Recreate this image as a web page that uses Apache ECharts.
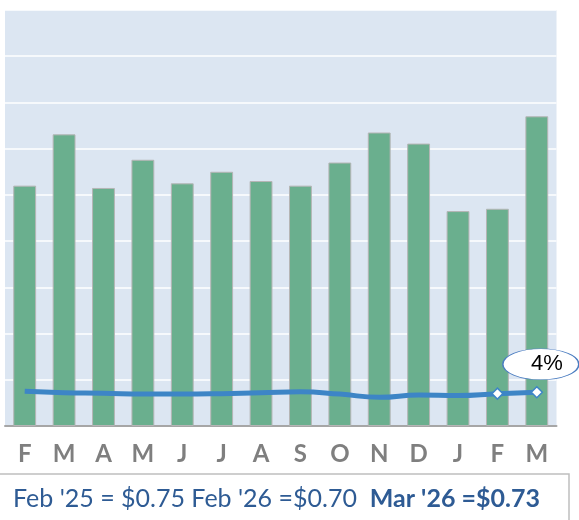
<!DOCTYPE html>
<html><head><meta charset="utf-8">
<script src="https://cdn.jsdelivr.net/npm/echarts@6/dist/echarts.min.js"></script>
<style>html,body{margin:0;padding:0;background:#fff}#c{width:579px;height:520px}</style>
</head><body><div id="c"></div>
<script>
const categories = ['F','M','A','M','J','J','A','S','O','N','D','J','F','M'];
const barValues = [5.20, 6.31, 5.15, 5.76, 5.25, 5.50, 5.30, 5.20, 5.70, 6.35, 6.11, 4.65, 4.70, 6.70];
const priceValues = [0.75, 0.72, 0.71, 0.69, 0.69, 0.70, 0.72, 0.74, 0.69, 0.62, 0.67, 0.66, 0.70, 0.73];
const markedPoints = [12, 13];
const changeLabel = '4%';
const footerNormal = "Feb '25 = $0.75 Feb '26 =$0.70  ";
const footerBold = "Mar '26 =$0.73";

const chart = echarts.init(document.getElementById('c'), null, {renderer:'canvas'});
const lineColor = '#3d85c6';
chart.setOption({
  animation:false,
  grid:{left:5, right:22.5, top:10, bottom:94, show:true, backgroundColor:'#dce6f2', borderWidth:0},
  xAxis:{type:'category', data:categories,
    axisLine:{lineStyle:{color:'#a6a6a6', width:2}}, axisTick:{show:false},
    axisLabel:{color:'#7f7f7f', fontFamily:'Lato', fontWeight:'bold', fontSize:24, margin:16}},
  yAxis:{type:'value', min:0, max:9, interval:1, axisLabel:{show:false}, axisLine:{show:false}, axisTick:{show:false},
    splitLine:{lineStyle:{color:'#ffffff', width:1.5}}},
  series:[
    {type:'bar', data:barValues, barWidth:'58%',
      itemStyle:{color:'#6aaf8e', borderColor:'#b5b5b5', borderWidth:1}},
    {type:'line', smooth:true, data:priceValues.map((v,i)=>({value:v, symbol: markedPoints.includes(i)?'diamond':'none'})),
      symbolSize:11, showSymbol:true,
      lineStyle:{color:lineColor, width:5},
      itemStyle:{color:'#ffffff', borderColor:lineColor, borderWidth:1.5},
      markPoint:{symbol:'circle', symbolSize:[76,31], symbolOffset:[4,-28],
        itemStyle:{color:'#ffffff', borderColor:'#4a7cc0', borderWidth:1},
        label:{show:true, formatter:changeLabel, color:'#000', fontSize:22, fontFamily:'Liberation Sans', offset:[6,0]},
        data:[{coord:[13, priceValues[13]]}]}
    }
  ],
  graphic:[
    {type:'rect', shape:{x:-2, y:474, width:571, height:60}, style:{fill:'#fff', stroke:'#bfbfbf', lineWidth:1.5}},
    {type:'text', x:13, y:499, style:{text:'{n|'+footerNormal+'}{b|'+footerBold+'}', verticalAlign:'middle',
      rich:{n:{fontFamily:'Lato', fontSize:25, fill:'#2e5b94', color:'#2e5b94'}, b:{fontFamily:'Lato', fontWeight:'bold', fontSize:25, fill:'#2e5b94', color:'#2e5b94'}}}}
  ]
});
</script></body></html>
